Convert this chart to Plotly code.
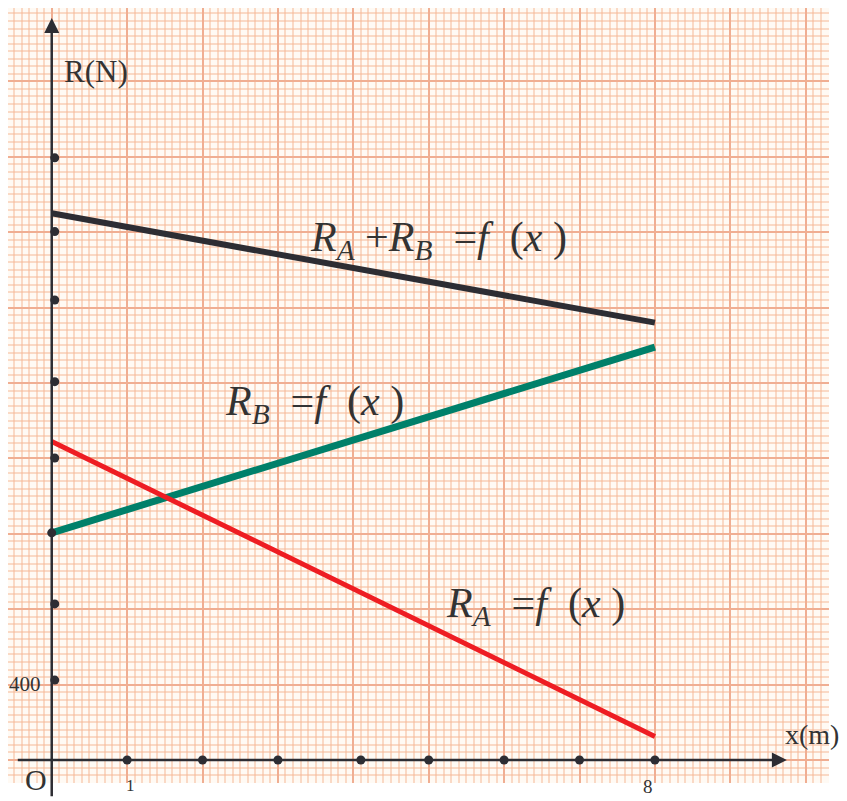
import plotly.graph_objects as go

# data (x in m, R in N)
x_ends = [0, 8]
r_sum = [2900, 2320]
r_b = [1205, 2190]
r_a = [1690, 125]

x_dots = [1, 2, 3, 4.1, 5, 6, 7, 8]
y_dots = [424, 828, 1205, 1602, 2007, 2440, 2803, 3194]
y_dots_x = [0.04, 0.04, 0, 0.04, 0.04, 0.04, 0.04, 0.04]

# the page adds an 8px body margin, so the plot box starts at (8, 8)
x_range = [-0.58, 10.309]
y_range = [-122, 3989]

ink = "#2d2d33"
serif = "Liberation Serif"
sp = "&nbsp;"

fig = go.Figure()

fig.add_trace(go.Scatter(x=x_ends, y=r_sum, mode="lines",
                         line=dict(color=ink, width=6)))
fig.add_trace(go.Scatter(x=x_ends, y=r_b, mode="lines",
                         line=dict(color="#00806a", width=7)))
fig.add_trace(go.Scatter(x=x_ends, y=r_a, mode="lines",
                         line=dict(color="#ee1d23", width=5)))

# dots on the axes
fig.add_trace(go.Scatter(x=x_dots, y=[0] * len(x_dots), mode="markers",
                         marker=dict(color=ink, size=9), cliponaxis=False))
fig.add_trace(go.Scatter(x=y_dots_x, y=y_dots, mode="markers",
                         marker=dict(color=ink, size=9), cliponaxis=False))

eq_sum = ("<i>R</i><sub><i>A</i></sub>" + sp + "+<i>R</i><sub><i>B</i></sub>"
          + sp + sp + "=<i>f</i>" + sp + sp + "(<i>x</i>" + sp + ")")
eq_b = ("<i>R</i><sub><i>B</i></sub>" + sp + sp + "=<i>f</i>" + sp + sp
        + "(<i>x</i>" + sp + ")")
eq_a = ("<i>R</i><sub><i>A</i></sub>" + sp + sp + "=<i>f</i>" + sp + sp
        + "(<i>x</i>" + sp + ")")

annotations = [
    # axes drawn as arrows
    dict(x=0, y=3936, ax=0, ay=-200, xref="x", yref="y", axref="x", ayref="y",
         showarrow=True, arrowhead=2, arrowsize=1.2, arrowwidth=2.5,
         arrowcolor=ink, text=""),
    dict(x=9.75, y=0, ax=-0.47, ay=0, xref="x", yref="y", axref="x", ayref="y",
         showarrow=True, arrowhead=2, arrowsize=1.2, arrowwidth=2.5,
         arrowcolor=ink, text=""),
    dict(x=0.137, y=3650, text="R(N)", xanchor="left", yanchor="middle",
         font=dict(size=31)),
    dict(x=9.70, y=133, text="x(m)", xanchor="left", yanchor="middle",
         font=dict(size=28)),
    dict(x=-0.21, y=-101, text="O", xanchor="center", yanchor="middle",
         font=dict(size=30)),
    dict(x=-0.11, y=403, text="400", xanchor="right", yanchor="middle",
         font=dict(size=21)),
    dict(x=1.04, y=-0.003, yref="paper", text="1", xanchor="center",
         yanchor="middle", font=dict(size=17)),
    dict(x=7.91, y=-0.005, yref="paper", text="8", xanchor="center",
         yanchor="middle", font=dict(size=19)),
    dict(x=3.40, y=2760, xanchor="left", yanchor="middle", font=dict(size=42),
         text=eq_sum),
    dict(x=2.27, y=1890, xanchor="left", yanchor="middle", font=dict(size=42),
         text=eq_b),
    dict(x=5.20, y=815, xanchor="left", yanchor="middle", font=dict(size=42),
         text=eq_a),
]
for a in annotations:
    a.setdefault("xref", "x")
    a.setdefault("yref", "y")
    a.setdefault("showarrow", False)
    if "font" in a:
        a["font"] = dict(family=serif, color="#333333", **a["font"])

grid_major = "#f0ae92"
grid_minor = "rgba(245,184,150,0.5)"

fig.update_layout(
    width=847, height=801,
    margin=dict(l=0, r=26, t=0, b=26),
    paper_bgcolor="white",
    plot_bgcolor="#fffaf4",
    showlegend=False,
    annotations=annotations,
    xaxis=dict(range=x_range, tick0=0, dtick=1, showgrid=True,
               gridcolor=grid_major, gridwidth=2.2, zeroline=False,
               showticklabels=False, ticks="", showline=False,
               minor=dict(tick0=0, dtick=0.1, showgrid=True,
                          gridcolor=grid_minor, gridwidth=1.8)),
    yaxis=dict(range=y_range, tick0=0, dtick=400, showgrid=True,
               gridcolor=grid_major, gridwidth=2.2, zeroline=False,
               showticklabels=False, ticks="", showline=False,
               minor=dict(tick0=0, dtick=40, showgrid=True,
                          gridcolor=grid_minor, gridwidth=1.8)),
)

fig.write_html("out.html")
